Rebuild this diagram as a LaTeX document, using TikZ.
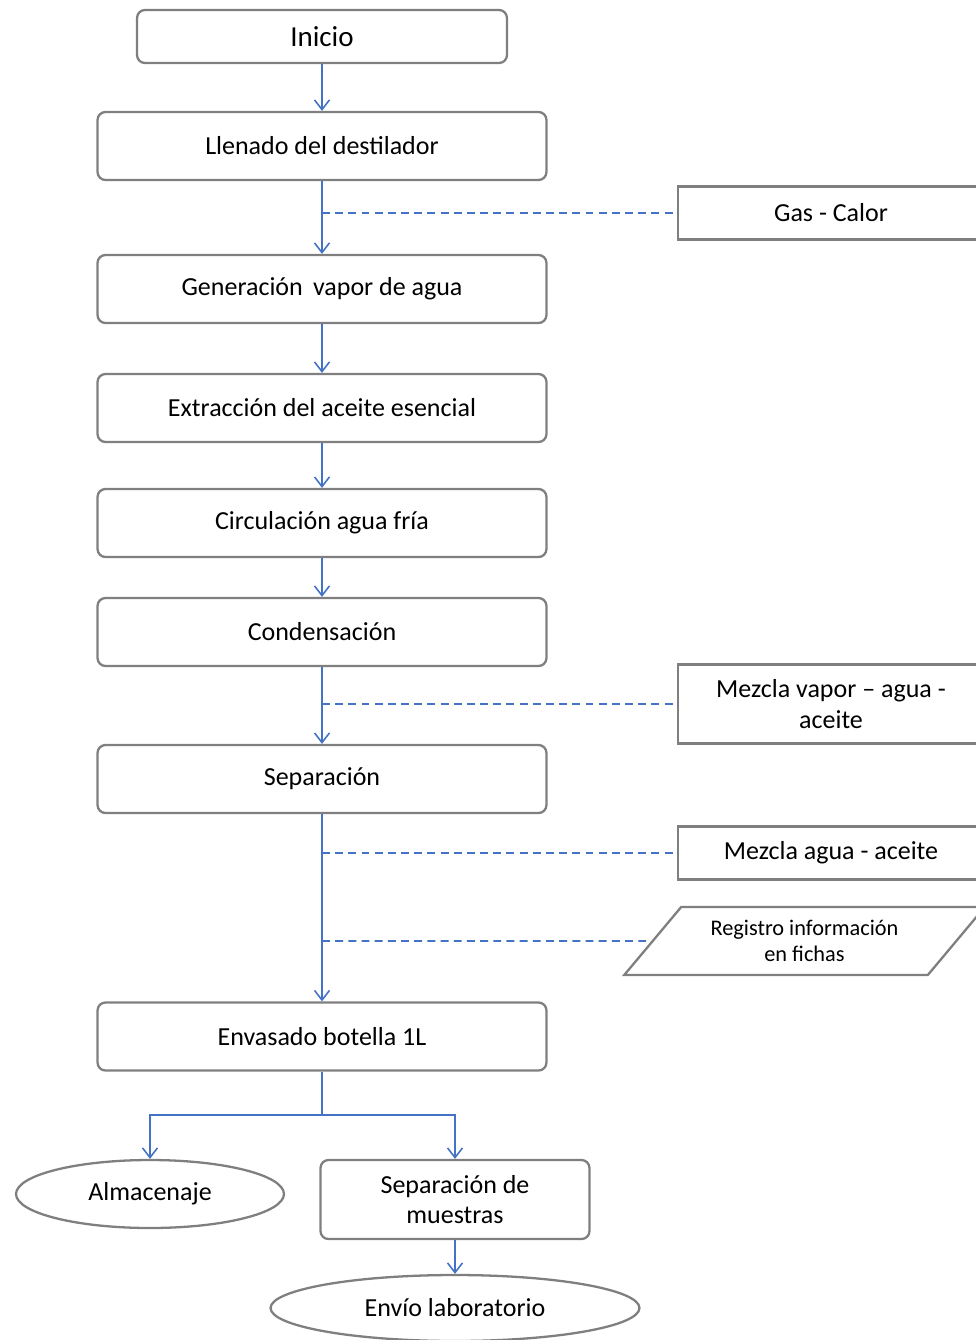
\documentclass[tikz,border=0pt]{standalone}
\usepackage{fontspec}
\setmainfont{Carlito}
\usetikzlibrary{shapes.geometric,arrows.meta}
\definecolor{flujo}{RGB}{68,114,196}
\definecolor{borde}{RGB}{127,127,127}
\tikzset{>={Straight Barb[length=5.5pt,width=8.5pt]}}

\begin{document}
\begin{tikzpicture}[x=0.02cm, y=-0.02cm]
  % pasos del proceso en el eje x = 322, laterales a la derecha
  \tikzstyle{every node}=[draw=borde, line width=1.3pt, fill=white, align=center,
                           font=\fontsize{14.8}{17.5}\selectfont]
  \tikzstyle{paso}=[rectangle, rounded corners=4.5pt, minimum width=8.98cm, minimum height=1.36cm]
  \tikzstyle{lateral}=[rectangle, minimum width=6.12cm, minimum height=1.06cm]
  \tikzstyle{fin}=[ellipse, inner sep=0pt]
  \tikzstyle{flecha}=[->, flujo, line width=0.9pt]
  \tikzstyle{aporte}=[flujo, line width=1pt, dash pattern=on 4.5pt off 3pt]
  \clip (0,0) rectangle (976,1340);

  \node[paso, minimum width=7.4cm, minimum height=1.06cm, font=\fontsize{16.5}{20}\selectfont] (inicio) at (322,36.5) {Inicio};
  \node[paso] (llenado) at (322,146) {Llenado del destilador};
  \node[paso] (vapor) at (322,289) {Generación\, vapor de agua};
  \node[paso] (extraccion) at (322,408) {Extracción del aceite esencial};
  \node[paso] (circulacion) at (322,523) {Circulación agua fría};
  \node[paso] (condensacion) at (322,632) {Condensación};
  \node[paso] (separacion) at (322,779) {Separación};
  \node[paso] (envasado) at (322,1036.5) {Envasado botella 1L};

  \node[lateral] (gas) at (831,213) {Gas - Calor};
  \node[lateral, minimum height=1.58cm] (mezcla) at (831,704) {Mezcla vapor -- agua -\\aceite};
  \node[lateral] (aguaaceite) at (831,853) {Mezcla agua - aceite};
  \node[trapezium, trapezium left angle=43.4, trapezium right angle=136.6, trapezium stretches=true,
        minimum width=7.22cm, minimum height=1.36cm, inner sep=0pt,
        font=\fontsize{12.7}{14.5}\selectfont] (registro) at (804.5,941) {Registro información\\en fichas};

  \node[fin, minimum width=5.36cm, minimum height=1.36cm] (almacenaje) at (150,1194) {Almacenaje};
  \node[paso, minimum width=5.38cm, minimum height=1.58cm] (muestras) at (455,1199.5) {Separación de\\muestras};
  \node[fin, minimum width=7.38cm, minimum height=1.32cm] (envio) at (455,1308) {Envío laboratorio};

  \draw[flecha] (inicio) -- (llenado);
  \draw[flecha] (llenado) -- (vapor);
  \draw[flecha] (vapor) -- (extraccion);
  \draw[flecha] (extraccion) -- (circulacion);
  \draw[flecha] (circulacion) -- (condensacion);
  \draw[flecha] (condensacion) -- (separacion);
  \draw[flecha] (separacion) -- (envasado);

  \draw[aporte] (gas -| llenado) -- (gas);
  \draw[aporte] (mezcla -| condensacion) -- (mezcla);
  \draw[aporte] (aguaaceite -| separacion) -- (aguaaceite);
  \draw[aporte] (registro -| separacion) -- (registro);

  \coordinate (rama) at (322,1115);
  \draw[flujo, line width=0.9pt] (envasado) -- (rama);
  \draw[flecha] (rama) -| (almacenaje);
  \draw[flecha] (rama) -| (muestras);
  \draw[flecha] (muestras) -- (envio);
\end{tikzpicture}
\end{document}
